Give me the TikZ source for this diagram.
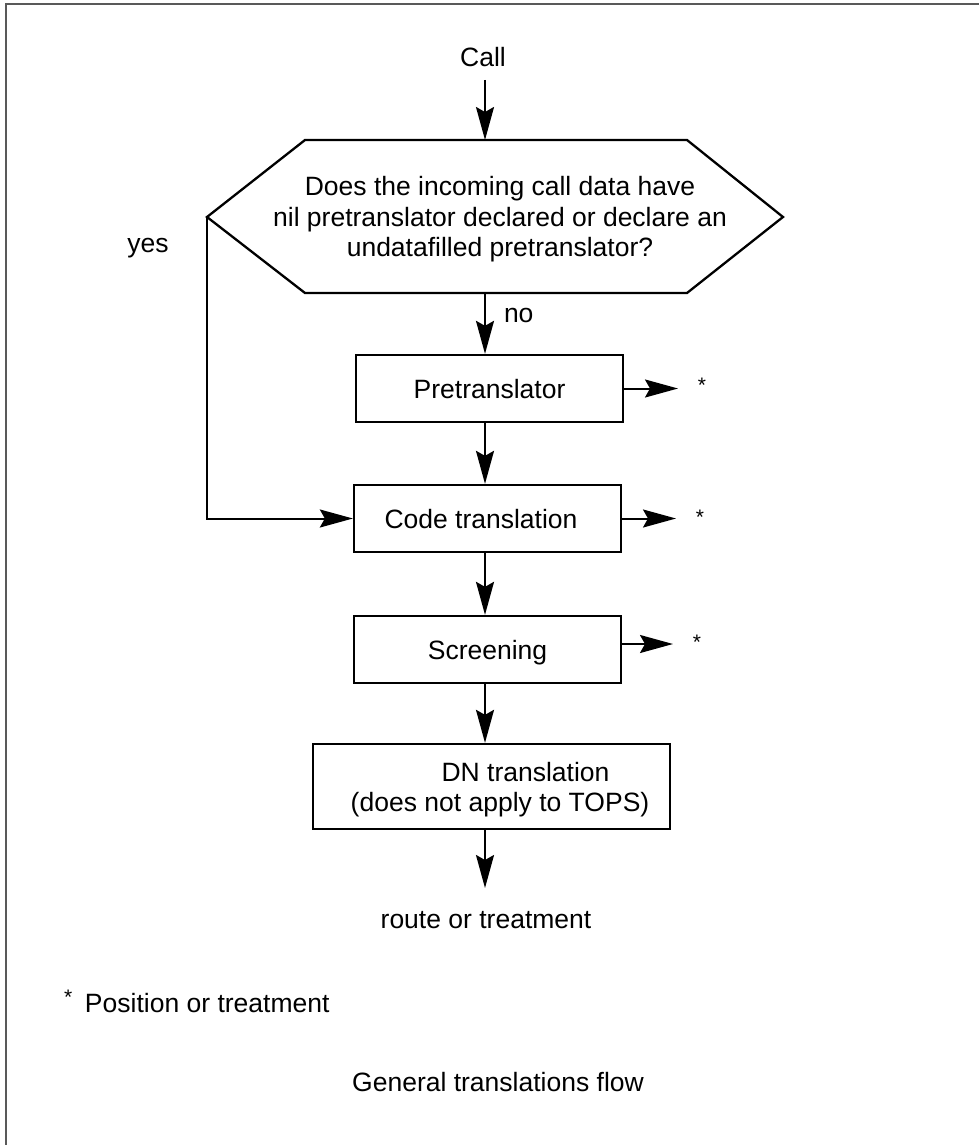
\documentclass[tikz,border=0pt]{standalone}
\usepackage{fontspec}
\setmainfont{Liberation Sans}
\usetikzlibrary{arrows.meta}
\newcommand{\smallast}{{\fontsize{21pt}{21pt}\selectfont *}}
\tikzset{
  plain/.style={inner sep=0pt, outer sep=0pt},
  box/.style={draw, line width=2.3pt, minimum width=267pt, minimum height=67pt,
    inner sep=0pt, text height=19pt, text depth=0pt},
  arr/.style={line width=2pt, -{Stealth[length=33pt,width=18pt,inset=5pt]}},
  hexline/.style={line width=2.3pt, line join=miter},
  frame/.style={draw=black!65, line width=2pt}
}
\begin{document}
\begin{tikzpicture}[x=1pt,y=-1pt,font=\fontsize{26.5pt}{30.5pt}\selectfont]
\useasboundingbox (0,0) rectangle (979,1145);
% frame
\coordinate (fb) at (6,1145);
\coordinate (ftl) at (6,4);
\coordinate (ftr) at (979,4);
\draw[frame] (fb) -- (ftl) -- (ftr);
% start
\node[plain, anchor=base] (call) at (483,67) {Call};
% decision hexagon
\coordinate (hl) at (207,217);
\coordinate (htl) at (305,140);
\coordinate (htr) at (687,140);
\coordinate (hr) at (783,217);
\coordinate (hbr) at (687,293);
\coordinate (hbl) at (305,293);
\draw[hexline] (hl) -- (htl) -- (htr) -- (hr) -- (hbr) -- (hbl) -- cycle;
\node[plain, align=center] (q) at (500,219.5)
  {Does the incoming call data have\\nil pretranslator declared or declare an\\undatafilled pretranslator?};
\coordinate (qtop) at (485,140);
\coordinate (qbot) at (485,293);
\draw[arr, shorten <=13pt] (call.base -| qtop) -- (qtop);
% boxes
\node[box] (pre) at (489.5,388.5) {Pretranslator};
\node[box] (code) at (487.5,518.5) {Code translation\hspace*{13pt}};
\node[box] (scr) at (487.5,649.5) {Screening};
\node[box, minimum width=357pt, minimum height=85pt] (dn) at (491.5,786.5) {};
\node[plain, align=center] (dnt) at (500,789.5)
  {\hspace*{51pt}DN translation\\(does not apply to TOPS)};
% main flow
\draw[arr] (qbot) -- (qbot |- pre.north);
\node[plain, anchor=base west] (no) at (504,322) {no};
\draw[arr] (pre.south -| qtop) -- (code.north -| qtop);
\draw[arr] (code.south -| qtop) -- (scr.north -| qtop);
\draw[arr] (scr.south -| qtop) -- (dn.north -| qtop);
\coordinate (rt) at (485,888);
\draw[arr] (dn.south -| qtop) -- (rt);
\node[plain, anchor=base] (route) at (486,928) {route or treatment};
% yes branch
\draw[arr] (hl) -- (hl |- code.west) -- (code.west);
\node[plain, anchor=base] (yes) at (148,252) {yes};
% side exits
\coordinate (pa) at (678,388.5);
\draw[arr] (pre.east) -- (pa);
\node[plain, anchor=base] (pst) at (702,392.5) {\smallast};
\coordinate (ca) at (676,518.5);
\draw[arr] (code.east) -- (ca);
\node[plain, anchor=base] (cst) at (700,524.5) {\smallast};
\coordinate (sa) at (673,644);
\draw[arr] ([yshift=5.5pt]scr.east) -- (sa);
\node[plain, anchor=base] (sst) at (697,649.5) {\smallast};
% notes
\node[plain, anchor=base west] (fn) at (64,1012)
  {\raisebox{7.5pt}{\smallast}\hspace{12.8pt}Position or treatment};
\node[plain, anchor=base] (title) at (498,1091) {General translations flow};
\end{tikzpicture}
\end{document}
